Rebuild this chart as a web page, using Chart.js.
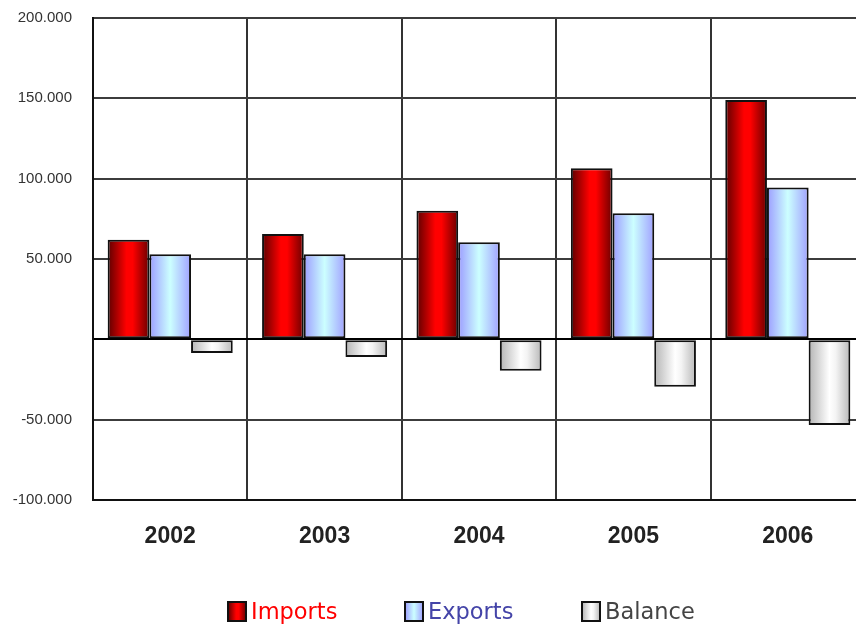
<!DOCTYPE html>
<html>
<head>
<meta charset="utf-8">
<script src="https://cdn.jsdelivr.net/npm/chart.js@4.4.1/dist/chart.umd.min.js"></script>
<style>
  body { margin: 0; overflow: hidden; background: #fff; }
  #wrap { position: relative; width: 868px; height: 628px; }
</style>
</head>
<body>
<div id="wrap"><canvas id="tradeChart"></canvas></div>
<script>
// values (thousands separator is a dot)
const years = ['2002', '2003', '2004', '2005', '2006'];
const imports = [62000, 65500, 80000, 106500, 149000];
const exports = [53000, 53000, 60500, 78500, 94500];
const balance = [-8500, -11000, -19500, -29500, -53300];
const seriesNames = ['Imports', 'Exports', 'Balance'];
const yTicks = [-100000, -50000, 0, 50000, 100000, 150000, 200000];

// horizontal "cylinder" shading for each series
const shades = [
  [[0, '#5c0000'], [0.45, '#ff0000'], [0.6, '#ff0000'], [1, '#6a0000']],
  [[0, '#9c9cff'], [0.5, '#ccffff'], [1, '#a0a0ff']],
  [[0, '#b4b4b4'], [0.5, '#ffffff'], [0.65, '#f4f4f4'], [1, '#b8b8b8']]
];
const legendColors = ['#ff0000', '#4444a8', '#444444'];

function fmt(v) {
  if (v === 0) return '';
  return String(v).replace(/\B(?=(\d{3})+(?!\d))/g, '.');
}

function makeGradient(ctx, left, width, stops) {
  const g = ctx.createLinearGradient(left, 0, left + width, 0);
  stops.forEach(s => g.addColorStop(s[0], s[1]));
  return g;
}

// each bar gets its own gradient once its position is known
const barShading = {
  id: 'barShading',
  beforeDatasetsDraw(chart) {
    chart.data.datasets.forEach((ds, i) => {
      chart.getDatasetMeta(i).data.forEach(bar => {
        const p = bar.getProps(['x', 'width'], true);
        bar.options.backgroundColor = makeGradient(chart.ctx, p.x - p.width / 2, p.width, shades[i]);
      });
    });
  }
};

const legendRow = {
  id: 'legendRow',
  afterDraw(chart) {
    const ctx = chart.ctx;
    const left = 228, step = 177, boxTop = 602, boxW = 18, boxH = 19;
    ctx.save();
    ctx.font = '22.5px "DejaVu Sans"';
    ctx.textBaseline = 'alphabetic';
    chart.data.datasets.forEach((ds, i) => {
      const x = left + i * step;
      ctx.fillStyle = makeGradient(ctx, x, boxW, shades[i]);
      ctx.fillRect(x, boxTop, boxW, boxH);
      ctx.lineWidth = 2;
      ctx.strokeStyle = '#111';
      ctx.strokeRect(x, boxTop, boxW, boxH);
      ctx.fillStyle = legendColors[i];
      ctx.fillText(ds.label, x + 23, 619);
    });
    ctx.restore();
  }
};

Chart.defaults.font.family = '"Liberation Sans", Arial, sans-serif';

new Chart(document.getElementById('tradeChart'), {
  type: 'bar',
  data: {
    labels: years,
    datasets: [
      { label: seriesNames[0], data: imports },
      { label: seriesNames[1], data: exports },
      { label: seriesNames[2], data: balance }
    ].map(ds => Object.assign(ds, {
      backgroundColor: () => '#999',   // scriptable so every bar keeps its own options
      borderColor: '#111',
      borderWidth: 2,
      borderSkipped: false,
      categoryPercentage: 0.81,
      barPercentage: 1.0
    }))
  },
  options: {
    responsive: true,
    maintainAspectRatio: false,
    animation: false,
    layout: { padding: { top: 18, right: 3, bottom: 0, left: 0 } },
    plugins: {
      legend: { display: false },
      tooltip: { enabled: false }
    },
    scales: {
      x: {
        grid: { offset: true, color: '#333', lineWidth: 2, drawTicks: false },
        border: { color: '#111', width: 2 },
        ticks: {
          color: '#222',
          padding: 23,
          font: { size: 23, weight: 'bold' }
        },
        afterFit(scale) { scale.height = 128; }
      },
      y: {
        min: -100000,
        max: 200000,
        afterBuildTicks(scale) { scale.ticks = yTicks.map(v => ({ value: v })); },
        grid: {
          color: ctx => ctx.tick && ctx.tick.value === 0 ? '#000' : '#3c3c3c',
          lineWidth: 2,
          drawTicks: false
        },
        border: { color: '#111', width: 2 },
        ticks: {
          color: '#333',
          padding: 21,
          font: { size: 15 },
          callback: v => fmt(v)
        },
        afterFit(scale) {
          scale.width = 93;
          scale.paddingTop = 0;
          scale.paddingBottom = 0;
        }
      }
    }
  },
  plugins: [barShading, legendRow]
});
</script>
</body>
</html>
